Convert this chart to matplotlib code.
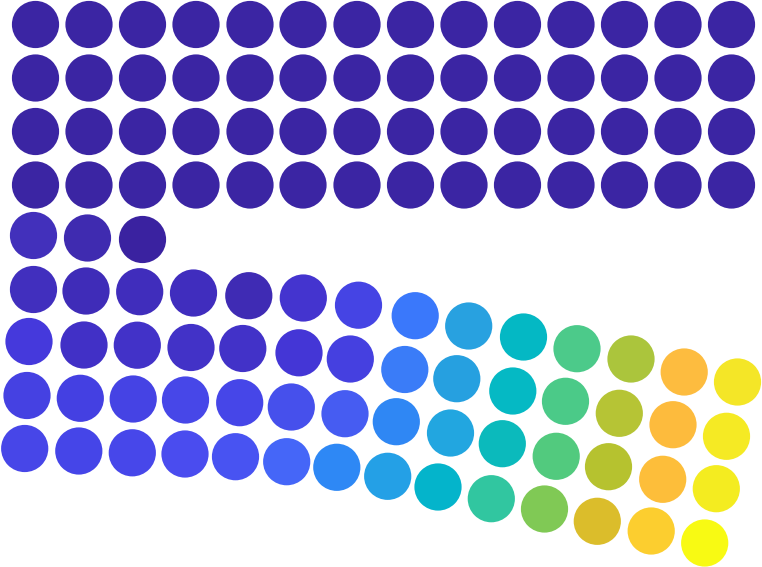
#!/usr/bin/env python3
"""Dot grid: a solid block of dots above a fanned, colour-graded block."""

import matplotlib

matplotlib.use("Agg")
import matplotlib.pyplot as plt
from matplotlib.patches import Circle

# --- data -----------------------------------------------------------------
# top block: 4 full rows of 14 dots, all one colour
top_x = [35.5, 89, 142.5, 196, 250, 303, 357, 410.5, 464, 517.5, 571, 624.5, 678, 731.5]
top_y = [24.5, 78, 131.5, 185]
top_color = "#3b25a3"

# partial row of 3 dots
mid_x = [33.5, 87.5, 142.5]
mid_y = [235.5, 238, 239.5]
mid_colors = ["#4230bb", "#3f2bb0", "#3a22a0"]

# lower fanned block: 4 rows of 14 dots
fan_x = [
    [33.5, 86, 139.7, 193.5, 248.8, 303.3, 358.5, 415.2, 468.7, 523.5, 577, 631, 684.2, 737.5],
    [29, 84, 137.3, 191, 242.8, 299, 350.3, 404.8, 456.8, 512.8, 565.5, 619.3, 673, 726.5],
    [27, 80.3, 133.2, 185.5, 239.7, 291.3, 345, 396.3, 450.5, 502.3, 556.2, 608.5, 662.7, 716.3],
    [24.7, 78.8, 132.3, 185, 235.5, 286.7, 336.8, 387.7, 438, 491.3, 544.5, 597.3, 651.2, 704.7],
]
fan_y = [
    [289.5, 291, 291.7, 293, 295.7, 298, 305.2, 315.7, 326, 337, 348.7, 359, 372, 382],
    [341.5, 345, 345.2, 347.5, 348.5, 352.8, 359, 369.5, 378.7, 391, 401.3, 413.3, 424.7, 436.3],
    [395.5, 398.3, 399, 400, 402.7, 407, 413.7, 421.7, 433, 443.7, 456.3, 466.7, 479.3, 488.7],
    [448.5, 451, 452.8, 454, 456.7, 461.7, 467.3, 476.3, 487, 498.7, 509, 521.3, 531, 543],
]
fan_colors = [
    ["#412fbe", "#3f2cb8", "#402dbc", "#402dbe", "#3f2bb4", "#4434cf", "#4544e4",
     "#3a78fb", "#28a1e0", "#04b8c4", "#4cca8a", "#abc53c", "#fdbc3f", "#f4e627"],
    ["#4539dc", "#4130c6", "#4232c8", "#4232c7", "#4232c8", "#4436d6", "#4540e0",
     "#3a7cf8", "#26a0e0", "#05b9c4", "#4bca88", "#b6c435", "#fdbb3d", "#f5ea24"],
    ["#4541e2", "#4440e2", "#4543e4", "#4747e8", "#4646e8", "#4650ec", "#465cf2",
     "#2f87f4", "#22a6e0", "#0bbabc", "#52ca7e", "#b6c22f", "#fdbe3a", "#f4ec20"],
    ["#4746e8", "#4545e8", "#4747ea", "#4a4cef", "#4853f2", "#4566f8", "#2e88f5",
     "#24a0e6", "#04b4cb", "#31c6a0", "#80c955", "#dbbd2b", "#fcce2f", "#f8fa13"],
]

RADIUS = 23.6


def _dot(ax, x, y, color):
    ax.add_patch(Circle((x, y), RADIUS, facecolor=color, edgecolor="none"))


def main() -> int:
    fig = plt.figure(figsize=(7.62, 5.67), dpi=100)
    ax = fig.add_axes([0, 0, 1, 1])
    ax.set_xlim(0, 762)
    ax.set_ylim(567, 0)
    ax.axis("off")

    for y in top_y:
        for x in top_x:
            _dot(ax, x, y, top_color)

    for x, y, c in zip(mid_x, mid_y, mid_colors):
        _dot(ax, x, y, c)

    for xs, ys, cs in zip(fan_x, fan_y, fan_colors):
        for x, y, c in zip(xs, ys, cs):
            _dot(ax, x, y, c)

    fig.savefig("out.png", dpi=100, facecolor="white")
    plt.close(fig)
    return 0


if __name__ == "__main__":
    raise SystemExit(main())
